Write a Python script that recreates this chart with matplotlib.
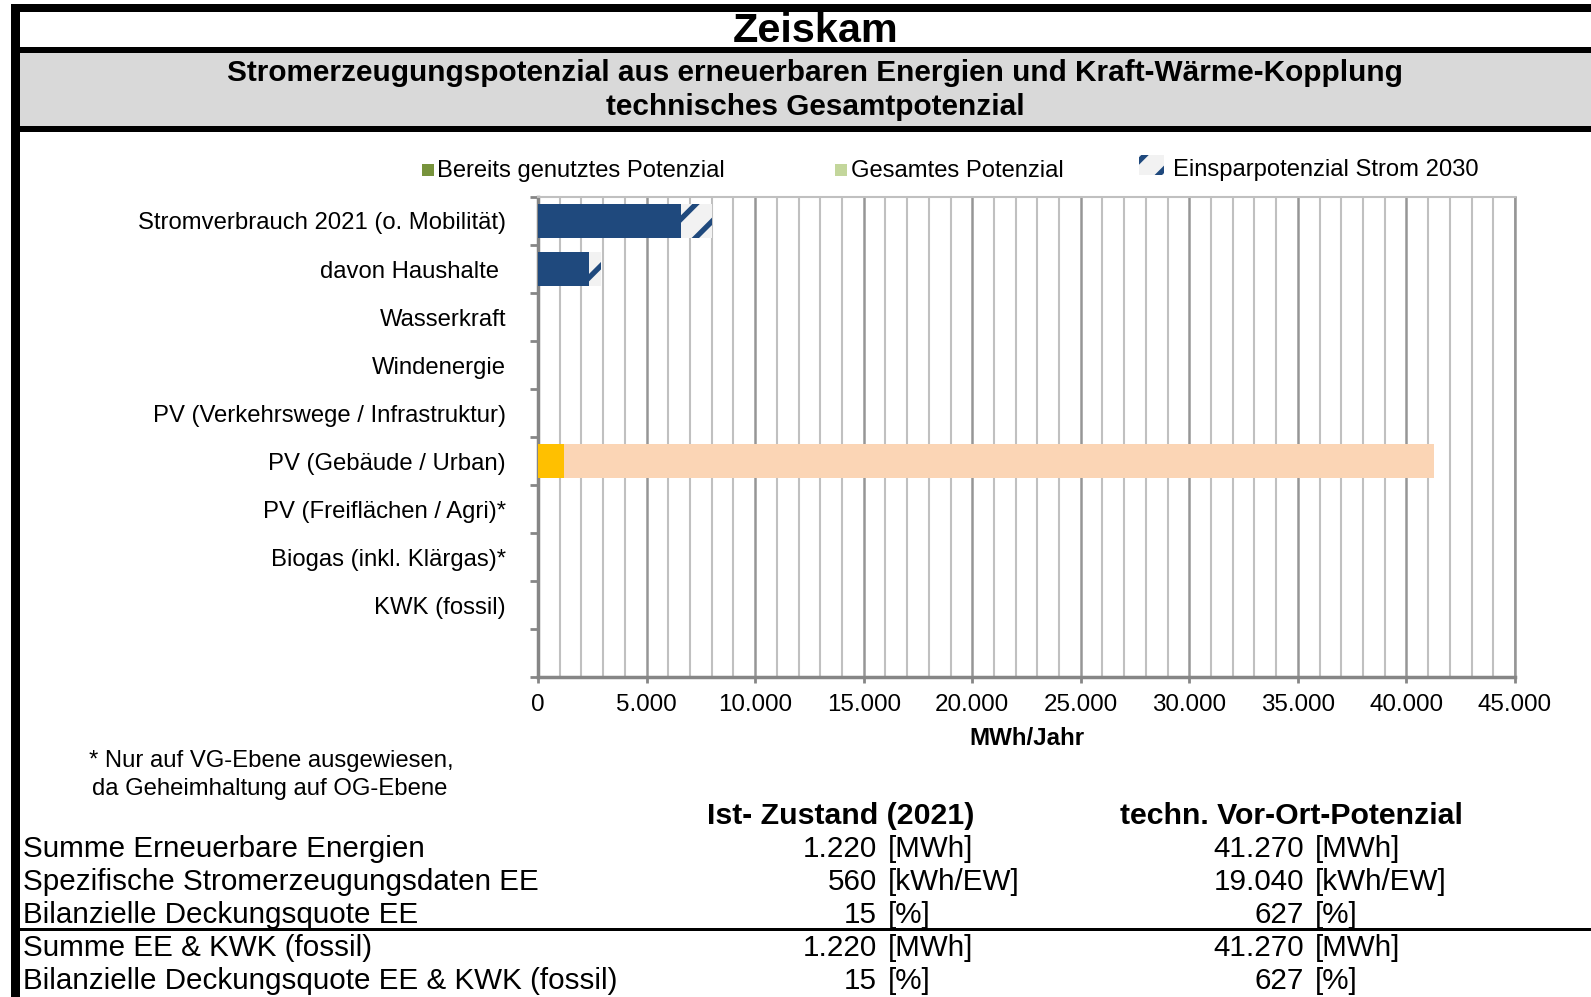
import numpy as np
import matplotlib
matplotlib.use("Agg")
import matplotlib.pyplot as plt
from matplotlib.patches import Rectangle
from matplotlib.ticker import MultipleLocator, FuncFormatter

plt.rcParams['font.family'] = ['Liberation Sans', 'DejaVu Sans']
plt.rcParams['hatch.linewidth'] = 3.8

# Daten
kategorien = ['Stromverbrauch 2021 (o. Mobilität)', 'davon Haushalte ', 'Wasserkraft', 'Windenergie',
              'PV (Verkehrswege / Infrastruktur)', 'PV (Gebäude / Urban)', 'PV (Freiflächen / Agri)*',
              'Biogas (inkl. Klärgas)*', 'KWK (fossil)', '']
verbrauch_2030 = [6580, 2350, 0, 0, 0, 0, 0, 0, 0, 0]      # Verbrauch nach Einsparung
einsparung = [1440, 550, 0, 0, 0, 0, 0, 0, 0, 0]           # Einsparpotenzial Strom 2030
genutzt = [0, 0, 0, 0, 0, 1220, 0, 0, 0, 0]               # bereits genutztes Potenzial
gesamt = [0, 0, 0, 0, 0, 41270, 0, 0, 0, 0]               # gesamtes Potenzial
farbe_genutzt = ['#1F497D', '#1F497D', '#4F81BD', '#8EB4E3', '#FFC000', '#FFC000', '#FFC000', '#77933C', '#7F7F7F', '#7F7F7F']
farbe_gesamt = ['#1F497D', '#1F497D', '#B9CDE5', '#C6D9F1', '#FBD5B5', '#FBD5B5', '#FBD5B5', '#C3D69B', '#D9D9D9', '#D9D9D9']

tabelle_zeilen = ['Summe Erneuerbare Energien', 'Spezifische Stromerzeugungsdaten EE', 'Bilanzielle Deckungsquote EE',
                  'Summe EE & KWK (fossil)', 'Bilanzielle Deckungsquote EE & KWK (fossil)']
ist_werte = ['1.220', '560', '15', '1.220', '15']
pot_werte = ['41.270', '19.040', '627', '41.270', '627']
einheiten = ['[MWh]', '[kWh/EW]', '[%]', '[MWh]', '[%]']

W, H = 1591, 997
fig = plt.figure(figsize=(W / 100, H / 100), dpi=100)


def fx(px):
    return px / W


def fy(py):
    return 1 - py / H


def rect(x0, y0, x1, y1, color):
    fig.add_artist(Rectangle((fx(x0), fy(y1)), fx(x1) - fx(x0), fy(y0) - fy(y1),
                             transform=fig.transFigure, facecolor=color, edgecolor='none', zorder=0))


# Rahmen und Kopfbereich
rect(20, 53, W, 126, '#D9D9D9')
rect(11, 4, W, 12, 'black')
rect(11, 47, W, 53, 'black')
rect(11, 126, W, 132, 'black')
rect(11, 4, 20, H, 'black')
rect(20, 928, W, 931, 'black')

fig.text(fx(816), fy(31), 'Zeiskam', ha='center', va='center', fontsize=29.8, fontweight='bold')
fig.text(fx(815), fy(73), 'Stromerzeugungspotenzial aus erneuerbaren Energien und Kraft-Wärme-Kopplung',
         ha='center', va='center', fontsize=21.4, fontweight='bold')
fig.text(fx(815), fy(107), 'technisches Gesamtpotenzial', ha='center', va='center', fontsize=21.4, fontweight='bold')

# Diagramm
ax = fig.add_axes([fx(538), fy(677), fx(1515) - fx(538), fy(197) - fy(677)])
y = np.arange(len(kategorien))
rest = np.array(gesamt) - np.array(genutzt)
ax.barh(y, genutzt, height=0.69, color=farbe_genutzt, zorder=3)
ax.barh(y, rest, left=genutzt, height=0.69, color=farbe_gesamt, zorder=3)
ax.barh(y, verbrauch_2030, height=0.69, color='#1F497D', zorder=3)
ax.barh(y, einsparung, left=verbrauch_2030, height=0.69, color='#F2F2F2', edgecolor='#1F497D',
        hatch='/', linewidth=0, zorder=3)

ax.set_xlim(0, 45000)
ax.set_ylim(len(kategorien) - 0.5, -0.5)
ax.xaxis.set_major_locator(MultipleLocator(5000))
ax.xaxis.set_minor_locator(MultipleLocator(1000))
ax.xaxis.set_major_formatter(FuncFormatter(lambda v, p: f'{int(v):,}'.replace(',', '.')))
ax.grid(axis='x', which='minor', color='#C0C0C0', linewidth=1.5, zorder=1)
ax.grid(axis='x', which='major', color='#969696', linewidth=1.8, zorder=1)
ax.set_yticks(y)
ax.set_yticklabels(kategorien)
ax.set_yticks(np.arange(-0.5, len(kategorien)), minor=True)
ax.tick_params(axis='y', which='major', length=0, pad=23, labelsize=17.2)
ax.tick_params(axis='y', which='minor', length=6, width=2, color='#868686')
ax.tick_params(axis='x', which='major', length=4, width=2, color='#868686', labelsize=17.4, pad=8)
ax.tick_params(axis='x', which='minor', length=0)
ax.set_xlabel('MWh/Jahr', fontsize=17.4, fontweight='bold', labelpad=8)
for s in ['left', 'bottom']:
    ax.spines[s].set_color('#868686')
    ax.spines[s].set_linewidth(2.5)
ax.spines['top'].set_color('#C0C0C0')
ax.spines['top'].set_linewidth(1.5)
ax.spines['right'].set_color('#969696')
ax.spines['right'].set_linewidth(1.8)

# Legende
rect(422, 164, 434, 176, '#77933C')
fig.text(fx(437), fy(171), 'Bereits genutztes Potenzial', va='center', fontsize=17.1)
rect(835, 164, 847, 176, '#C3D69B')
fig.text(fx(851), fy(171), 'Gesamtes Potenzial', va='center', fontsize=17.1)
fig.add_artist(Rectangle((fx(1139), fy(175)), fx(25), fy(155) - fy(175), transform=fig.transFigure,
                         facecolor='#F2F2F2', edgecolor='#1F497D', hatch='/', linewidth=0))
fig.text(fx(1173), fy(170), 'Einsparpotenzial Strom 2030', va='center', fontsize=17.1)

# Fußnote
fig.text(fx(89), fy(761), '* Nur auf VG-Ebene ausgewiesen,', va='center', fontsize=17.2)
fig.text(fx(92), fy(789), 'da Geheimhaltung auf OG-Ebene', va='center', fontsize=17.2)

# Tabelle
fig.text(fx(841), fy(816), 'Ist- Zustand (2021)', ha='center', va='center', fontsize=21.8, fontweight='bold')
fig.text(fx(1291), fy(816), 'techn. Vor-Ort-Potenzial', ha='center', va='center', fontsize=21.8, fontweight='bold')
zeilen_y = [849, 882, 915, 948, 981]
for zy, name, iw, pw, eh in zip(zeilen_y, tabelle_zeilen, ist_werte, pot_werte, einheiten):
    fig.text(fx(23), fy(zy), name, va='center', fontsize=21.3)
    fig.text(fx(877), fy(zy), iw, ha='right', va='center', fontsize=21.3)
    fig.text(fx(888), fy(zy), eh, ha='left', va='center', fontsize=21.3)
    fig.text(fx(1304), fy(zy), pw, ha='right', va='center', fontsize=21.3)
    fig.text(fx(1315), fy(zy), eh, ha='left', va='center', fontsize=21.3)

fig.savefig('out.png', dpi=100)
